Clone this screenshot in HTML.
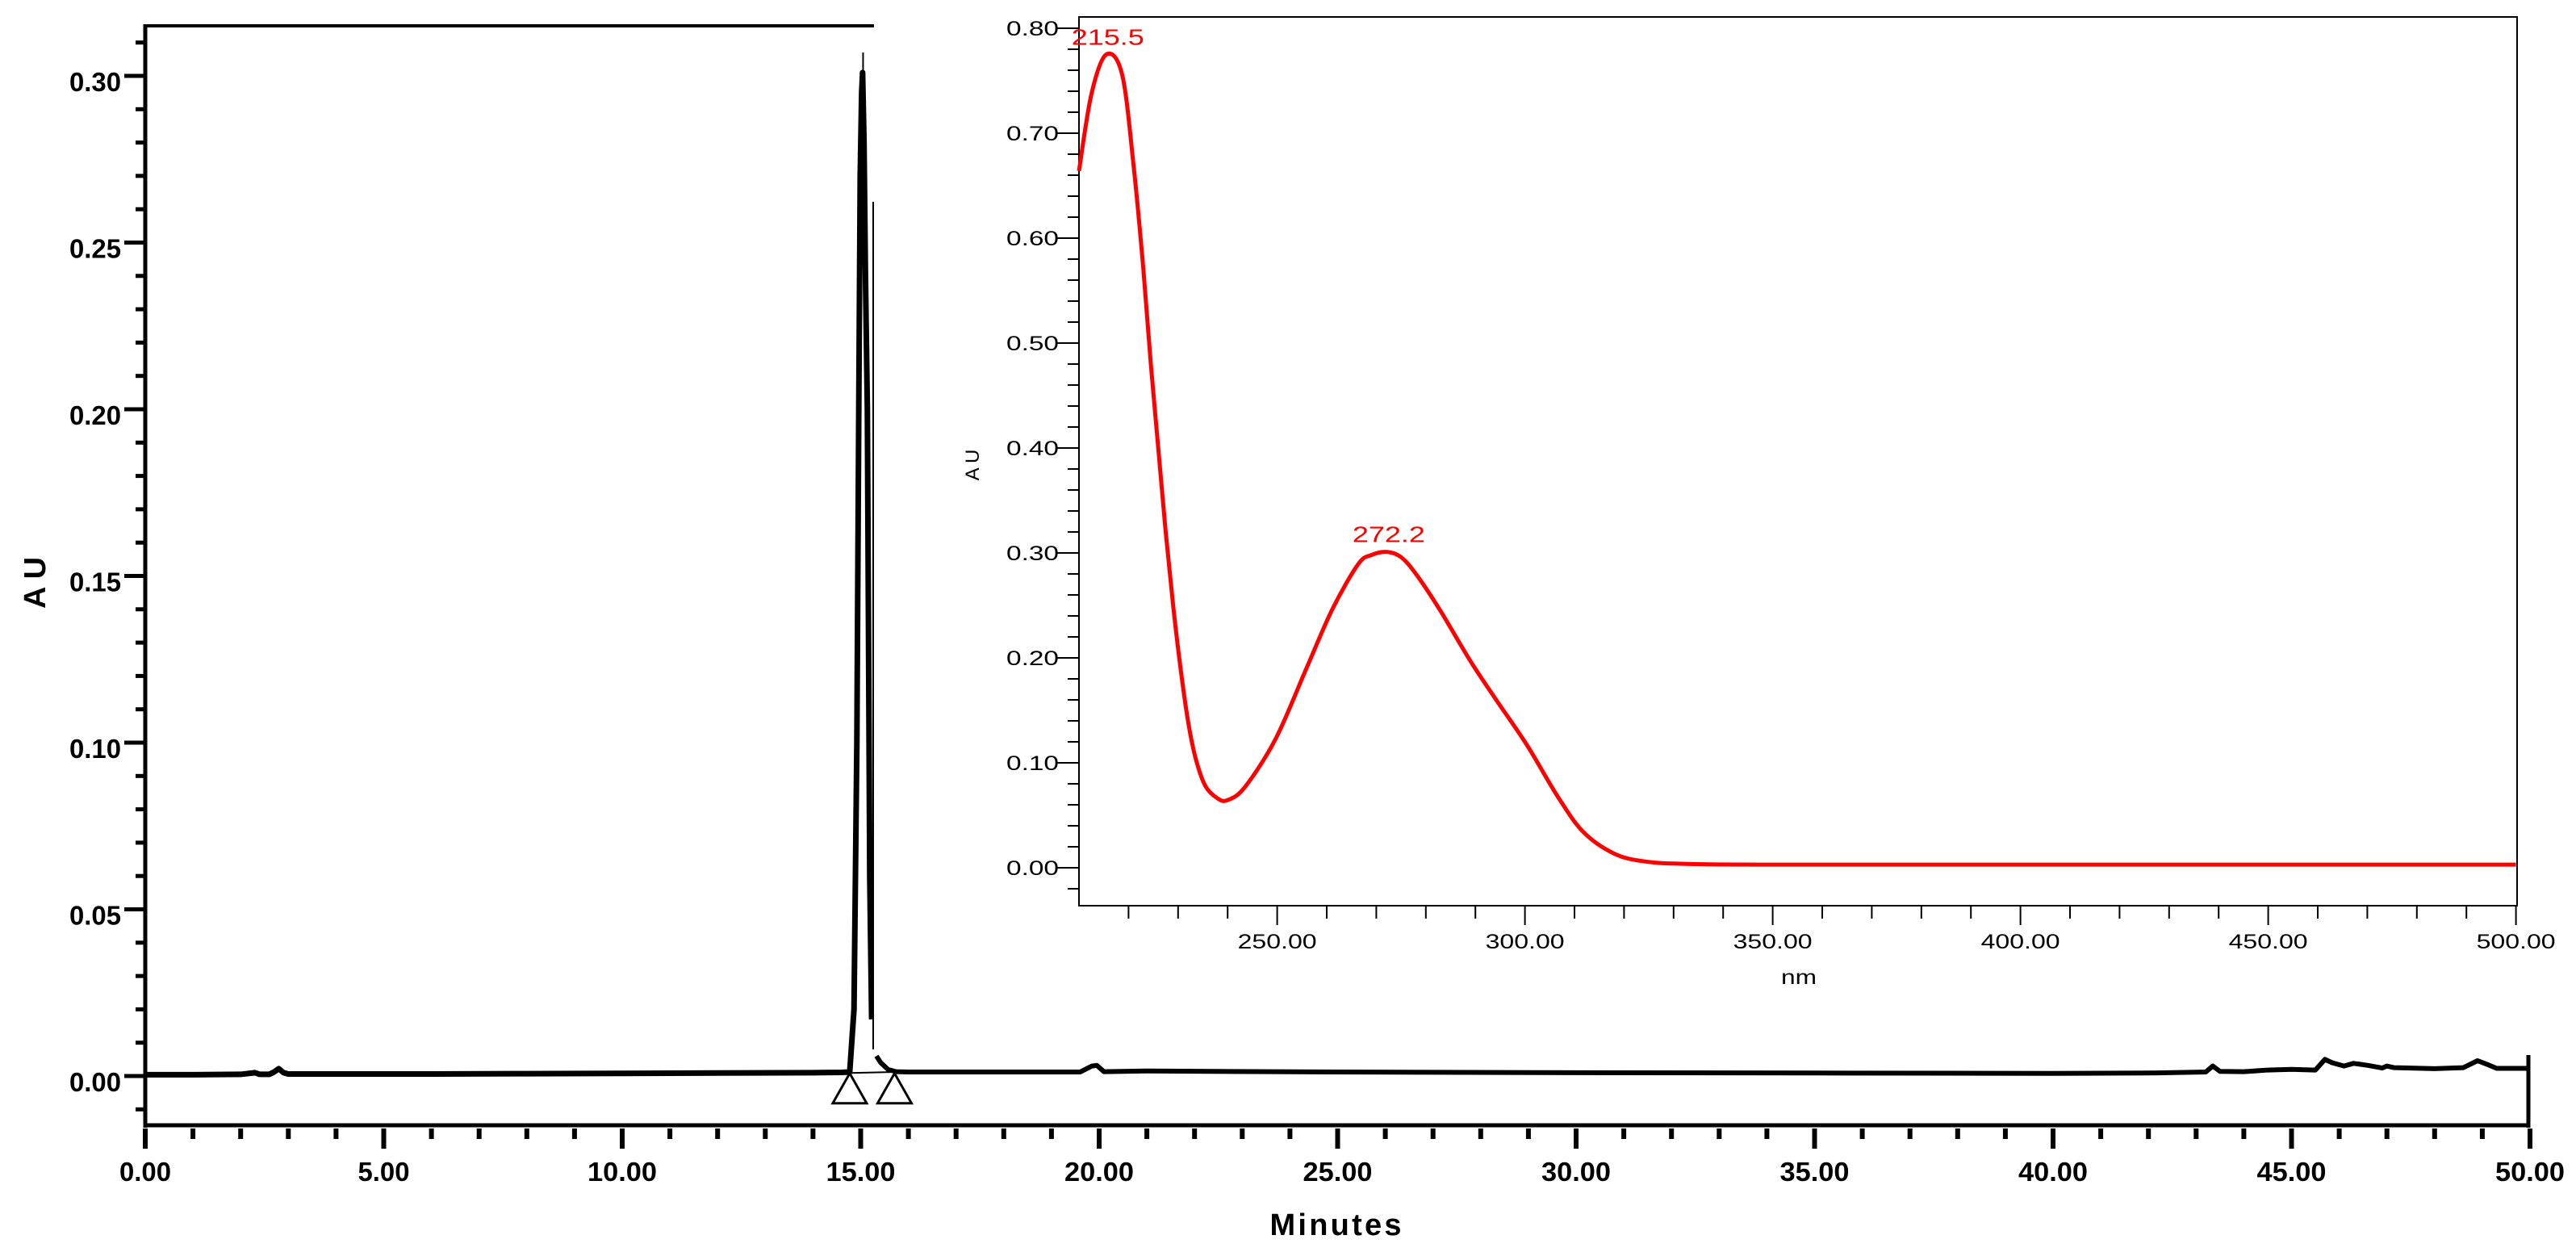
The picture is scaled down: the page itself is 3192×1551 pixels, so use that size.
<!DOCTYPE html>
<html><head><meta charset="utf-8"><style>
html,body{margin:0;padding:0;background:#fff;}
svg{display:block;}
text{font-family:"Liberation Sans",Arial,sans-serif;}
</style></head><body>
<svg id="chart" width="3192" height="1551" viewBox="0 0 3192 1551" xmlns="http://www.w3.org/2000/svg">
<defs><clipPath id="lblclip"><rect x="1060" y="0" width="23" height="400"/></clipPath></defs>
<g id="main"></g>
<rect x="1083" y="0" width="2109" height="1300" fill="#fff"/>
<line x1="1082" y1="250" x2="1082" y2="1300" stroke="#000" stroke-width="2"/>
<g id="inset"></g>
</svg>
<script>
// ---- Chromatogram data ----
const chromTimes = [0,1,2,2.3,2.4,2.6,2.7,2.8,2.9,3.0,4,6,8,10,12,14,14.6,14.77,14.86,14.92,14.96,14.99,15.02,15.04,15.07,15.1,15.14,15.19,15.23];
const chromAU    = [0.0004,0.0004,0.0005,0.0010,0.0005,0.0005,0.0012,0.0022,0.0010,0.0006,0.0006,0.0006,0.0007,0.0008,0.0009,0.0010,0.0011,0.0012,0.02,0.10,0.20,0.27,0.295,0.301,0.28,0.24,0.20,0.06,0.017];
const tailTimes = [15.33,15.42,15.57,15.74,16,18,19.6,19.85,19.95,20.1,21,25,30,35,40,42,43.2,43.35,43.5,44,44.5,45,45.5,45.7,45.85,46.1,46.3,46.6,46.9,47.0,47.15,47.5,48,48.6,48.9,49.1,49.3,50];
const tailAU    = [0.006,0.004,0.002,0.0013,0.0012,0.0012,0.0012,0.0030,0.0032,0.0013,0.0015,0.0012,0.0010,0.0009,0.0008,0.0009,0.0012,0.0030,0.0014,0.0013,0.0018,0.0020,0.0018,0.0050,0.0040,0.0030,0.0038,0.0032,0.0024,0.0030,0.0025,0.0024,0.0022,0.0025,0.0046,0.0035,0.0023,0.0023];
const apexTime = 15.05, apexTop = 0.307;
const xTickMajor = ["0.00","5.00","10.00","15.00","20.00","25.00","30.00","35.00","40.00","45.00","50.00"];
const yTickMajor = ["0.00","0.05","0.10","0.15","0.20","0.25","0.30"];
const markerTimes = [14.77, 15.71];
// ---- Spectrum data ----
const specWl = [210,212.5,215.5,218.7,221,223,224.5,226,227.5,229,230.5,232,233.5,235.5,238,240,243.5,249.7,255.9,261.1,266.3,269,272.2,275,278,282.8,289.0,294.2,300.4,306.6,311.8,318.0,324.2,332.5,350,400,450,500];
const specAU = [0.664,0.737,0.775,0.756,0.67,0.57,0.48,0.40,0.32,0.25,0.19,0.14,0.105,0.078,0.066,0.0645,0.077,0.123,0.190,0.246,0.289,0.298,0.301,0.296,0.280,0.246,0.197,0.160,0.117,0.068,0.034,0.0135,0.006,0.0037,0.003,0.003,0.003,0.003];
const specPeakWl = [215.5, 272.2];
const specPeakAU = [0.775, 0.301];
const specXTicks = ["250.00","300.00","350.00","400.00","450.00","500.00"];
const specYTicks = ["0.00","0.10","0.20","0.30","0.40","0.50","0.60","0.70","0.80"];

const NS="http://www.w3.org/2000/svg";
function mk(tag, attrs, parent){const e=document.createElementNS(NS,tag);for(const k in attrs)e.setAttribute(k,attrs[k]);parent.appendChild(e);return e;}
const X=t=>180+t*59.1, Y=v=>1333-v*4130;
const IX=w=>1337+(w-210)*6.14, IY=v=>1075-v*1300;
const main=document.getElementById('main'), inset=document.getElementById('inset');

let e;
e=mk('line',{x1:180,y1:30,x2:180,y2:1397,stroke:'#000','stroke-width':5},main);


e=mk('line',{x1:178,y1:32,x2:1083,y2:32,stroke:'#000','stroke-width':4},main);


e=mk('line',{x1:178,y1:1394,x2:3135,y2:1394,stroke:'#000','stroke-width':5},main);


e=mk('line',{x1:3133,y1:1307,x2:3133,y2:1397,stroke:'#000','stroke-width':5},main);


for(let i=-1;i<=31;i++){const v=i/100;const maj=i%5===0;
 e=mk('line',{x1:maj?154:168,y1:Y(v),x2:180,y2:Y(v),stroke:'#000','stroke-width':5},main);
 
 }
yTickMajor.forEach(s=>{const v=parseFloat(s);
 e=mk('text',{x:150,y:Y(v)+19,'text-anchor':'end','font-size':33,'font-weight':'bold',textLength:64,lengthAdjust:'spacingAndGlyphs'},main);e.textContent=s;
 
 });
for(let i=0;i<=50;i++){const maj=i%5===0;
 e=mk('line',{x1:X(i),y1:1398,x2:X(i),y2:maj?1423:1411,stroke:'#000','stroke-width':6},main);
 
 }
xTickMajor.forEach(s=>{const t=parseFloat(s);
 e=mk('text',{x:X(t),y:1463,'text-anchor':'middle','font-size':33,'font-weight':'bold',textLength:s.length===4?64:86,lengthAdjust:'spacingAndGlyphs'},main);e.textContent=s;
 
 });
e=mk('text',{x:1655,y:1530,'text-anchor':'middle','font-size':38,'font-weight':'bold',textLength:163},main);e.textContent='Minutes';


e=mk('text',{x:0,y:0,'text-anchor':'middle','font-size':38,'font-weight':'bold',transform:'translate(56,722) rotate(-90)'},main);e.textContent='A U';


e=mk('polyline',{points:chromTimes.map((t,i)=>X(t)+','+Y(chromAU[i])).join(' '),fill:'none',stroke:'#000','stroke-width':7,'stroke-linejoin':'round'},main);


e=mk('polyline',{points:tailTimes.map((t,i)=>X(t)+','+Y(tailAU[i])).join(' '),fill:'none',stroke:'#000','stroke-width':6,'stroke-linejoin':'round'},main);


e=mk('line',{x1:X(apexTime),y1:Y(0.300),x2:X(apexTime),y2:Y(apexTop),stroke:'#000','stroke-width':2},main);


e=mk('line',{x1:X(markerTimes[0]),y1:Y(0.0009),x2:X(markerTimes[1]),y2:Y(0.0012),stroke:'#000','stroke-width':2},main);


markerTimes.forEach(t=>{const x=X(t),y=Y(0.0008);
 e=mk('polygon',{points:`${x},${y} ${x-21},${y+37} ${x+21},${y+37}`,fill:'#fff',stroke:'#000','stroke-width':3},main);
 
 });
e=mk('text',{x:0,y:0,'font-size':26,'clip-path':'url(#lblclip)',transform:'translate(1091,262) rotate(-90)'},main);e.textContent='15.103';



e=mk('rect',{x:1337,y:21,width:1782,height:1101,fill:'none',stroke:'#000','stroke-width':2},inset);


for(let i=-1;i<=40;i++){const v=i*0.02;const maj=i%5===0;
 e=mk('line',{x1:maj?1310:1323,y1:IY(v),x2:1337,y2:IY(v),stroke:'#000','stroke-width':2},inset);
 
 }
specYTicks.forEach(s=>{const v=parseFloat(s);
 e=mk('text',{x:1247,y:IY(v)+9,'font-size':25,textLength:65,lengthAdjust:'spacingAndGlyphs'},inset);e.textContent=s;
 
 });
for(let w=220;w<=500;w+=10){const maj=w%50===0;
 e=mk('line',{x1:IX(w),y1:1122,x2:IX(w),y2:maj?1146:1138,stroke:'#000','stroke-width':2},inset);
 
 }
specXTicks.forEach(s=>{const w=parseFloat(s);
 e=mk('text',{x:IX(w)-49,y:1175,'font-size':25,textLength:98,lengthAdjust:'spacingAndGlyphs'},inset);e.textContent=s;
 
 });
e=mk('text',{x:2229,y:1219,'text-anchor':'middle','font-size':25,textLength:44,lengthAdjust:'spacingAndGlyphs'},inset);e.textContent='nm';


e=mk('text',{x:0,y:0,'text-anchor':'middle','font-size':24,transform:'translate(1213,576) rotate(-90)'},inset);e.textContent='A U';


(function(){
 const p=specWl.map((w,i)=>[IX(w),IY(specAU[i])]);
 let d='M'+p[0][0]+','+p[0][1];
 for(let i=0;i<p.length-1;i++){const p0=p[Math.max(0,i-1)],p1=p[i],p2=p[i+1],p3=p[Math.min(p.length-1,i+2)];
  const c1=[p1[0]+(p2[0]-p0[0])/6,p1[1]+(p2[1]-p0[1])/6],c2=[p2[0]-(p3[0]-p1[0])/6,p2[1]-(p3[1]-p1[1])/6];
  d+=` C${c1[0]},${c1[1]} ${c2[0]},${c2[1]} ${p2[0]},${p2[1]}`;}
 e=mk('path',{d:d,fill:'none',stroke:'#ff0000','stroke-width':5,'stroke-linejoin':'round'},inset);
 
 
})();
specPeakWl.forEach((w,i)=>{
 e=mk('text',{x:IX(w)+2,y:IY(specPeakAU[i])-12,'text-anchor':'middle','font-size':28,fill:'#ff0000',textLength:90,lengthAdjust:'spacingAndGlyphs'},inset);
 e.textContent=w.toFixed(1);
 
 });
</script>
</body></html>
